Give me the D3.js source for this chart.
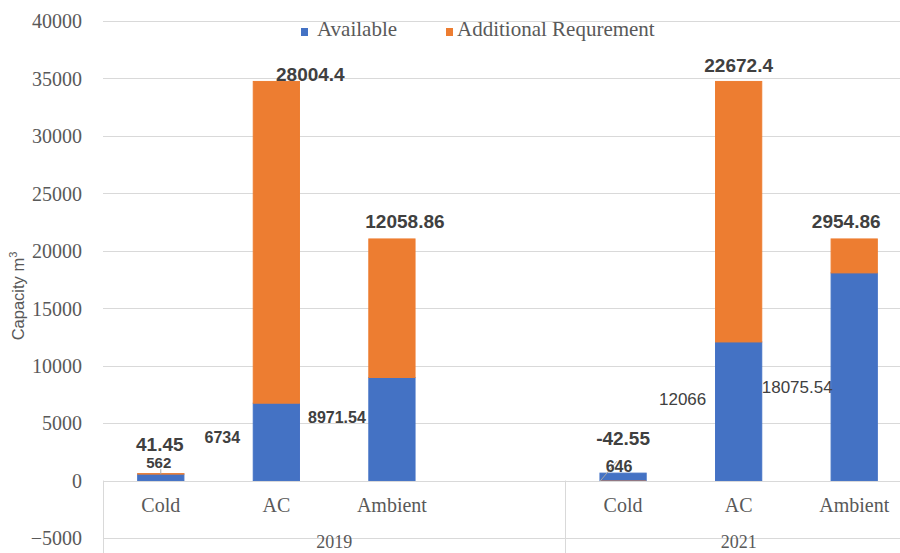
<!DOCTYPE html>
<html>
<head>
<meta charset="utf-8">
<script src="https://cdn.jsdelivr.net/npm/d3@7/dist/d3.min.js"></script>
<style>
  html, body { margin: 0; padding: 0; background: #ffffff; }
  svg { display: block; }
</style>
</head>
<body>
<svg id="chart" width="900" height="553"></svg>
<script>
// Storage capacity by type, two survey years (multi-level category axis)
const slotYear     = ["2019", "2019", "2019", "2019", "2021", "2021", "2021"];
const slotCategory = ["Cold", "AC", "Ambient", "", "Cold", "AC", "Ambient"];
const available    = [562, 6734, 8971.54, null, 646, 12066, 18075.54];
const additional   = [41.45, 28004.4, 12058.86, null, -42.55, 22672.4, 2954.86];
const seriesNames  = ["Available", "Additional Requrement"];
const yearGroups   = ["2019", "2021"];
const yTicks       = [-5000, 0, 5000, 10000, 15000, 20000, 25000, 30000, 35000, 40000];

// Hand-placed data label offsets (px) from each segment's top edge, per slot
const availLabelLayout = [
  { dx: -2,  dy: -6,  size: 15, weight: "bold", leader: [0, -5, 0, 0] },
  { dx: -54, dy: 40,  size: 16, weight: "bold" },
  { dx: -55, dy: 46,  size: 16, weight: "bold" },
  null,
  { dx: -4,  dy: -1,  size: 16, weight: "bold", leader: [-23, 8, -6, -12] },
  { dx: -56, dy: 63,  size: 17, weight: "normal" },
  { dx: -57, dy: 120, size: 17, weight: "normal" }
];
const addLabelLayout = [
  { dx: -1,  dy: -23, size: 19 },
  { dx: 34,  dy: 0,   size: 19 },
  { dx: 13,  dy: -11, size: 19 },
  null,
  { dx: 0,   dy: -36, size: 19 },
  { dx: 0,   dy: -9,  size: 19 },
  { dx: -8,  dy: -11, size: 19 }
];

const colors = { available: "#4472c4", additional: "#ed7d31" };
const W = 900, H = 553;
const plotLeft = 103, plotRight = 912, plotTop = 21, plotBottom = 538;

const svg = d3.select("#chart");

const slots = d3.range(slotCategory.length);
const x = d3.scaleBand().domain(slots).range([plotLeft, plotRight]).padding(0);
const barW = x.bandwidth() * 0.4;
const y = d3.scaleLinear().domain([-5000, 40000]).range([plotBottom, plotTop]);

// Gridlines
svg.append("g")
  .selectAll("line")
  .data(yTicks)
  .join("line")
  .attr("x1", plotLeft).attr("x2", W)
  .attr("y1", d => Math.round(y(d)) + 0.5)
  .attr("y2", d => Math.round(y(d)) + 0.5)
  .attr("stroke", "#d9d9d9")
  .attr("stroke-width", 1);

// Value axis labels
const yAxis = d3.axisLeft(y).tickValues(yTicks).tickSize(0).tickPadding(0).tickFormat(d3.format("d"));
const yAxisG = svg.append("g").attr("transform", `translate(${82},0)`).call(yAxis);
yAxisG.select(".domain").remove();
yAxisG.selectAll("text")
  .attr("font-family", "'Liberation Serif', serif")
  .attr("font-size", 20)
  .attr("fill", "#595959")
  .attr("dy", "0.34em");

// Axis title
svg.append("text")
  .attr("transform", `translate(24,296) rotate(-90)`)
  .attr("text-anchor", "middle")
  .attr("font-family", "'Liberation Sans', Arial, sans-serif")
  .attr("font-size", 16.5)
  .attr("fill", "#595959")
  .call(t => {
    t.append("tspan").text("Capacity m");
    t.append("tspan").attr("dy", -7).attr("font-size", 11).text("3");
  });

// Stacked bars
const rows = slots
  .filter(i => available[i] !== null)
  .map(i => ({ slot: i, available: available[i], additional: additional[i] }));

const stack = d3.stack()
  .keys(["available", "additional"])
  .offset(d3.stackOffsetDiverging);
const series = stack(rows);

const barsG = svg.append("g");
series.forEach(s => {
  barsG.append("g")
    .attr("fill", colors[s.key])
    .selectAll("rect")
    .data(s)
    .join("rect")
    .attr("x", d => x(d.data.slot) + (x.bandwidth() - barW) / 2)
    .attr("width", barW)
    .attr("y", d => y(Math.max(d[0], d[1])))
    .attr("height", d => Math.abs(y(d[0]) - y(d[1])))
    // thin same-colour outline on positive segments so very small ones stay visible
    .attr("stroke", d => d.data[s.key] > 0 ? colors[s.key] : "none")
    .attr("stroke-width", 1);
});

// Category axis line and group separators
svg.append("line")
  .attr("x1", plotLeft).attr("x2", W)
  .attr("y1", Math.round(y(0)) + 0.5).attr("y2", Math.round(y(0)) + 0.5)
  .attr("stroke", "#d9d9d9");

const groupEdges = [plotLeft, x(slotYear.indexOf("2021")), plotRight];
svg.append("g")
  .selectAll("line")
  .data(groupEdges)
  .join("line")
  .attr("x1", d => Math.round(d) + 0.5).attr("x2", d => Math.round(d) + 0.5)
  .attr("y1", y(0)).attr("y2", H)
  .attr("stroke", "#d9d9d9");

// Category labels
svg.append("g")
  .selectAll("text")
  .data(slots.filter(i => slotCategory[i] !== ""))
  .join("text")
  .attr("x", i => x(i) + x.bandwidth() / 2)
  .attr("y", 512)
  .attr("text-anchor", "middle")
  .attr("font-family", "'Liberation Serif', serif")
  .attr("font-size", 20)
  .attr("fill", "#595959")
  .text(i => slotCategory[i]);

// Year group labels
svg.append("g")
  .selectAll("text")
  .data(yearGroups)
  .join("text")
  .attr("x", yr => {
    const idx = slots.filter(i => slotYear[i] === yr);
    return (x(idx[0]) + x(idx[idx.length - 1]) + x.bandwidth()) / 2;
  })
  .attr("y", 548)
  .attr("text-anchor", "middle")
  .attr("font-family", "'Liberation Serif', serif")
  .attr("font-size", 18)
  .attr("fill", "#595959")
  .text(yr => yr);

// Data labels
const labelsG = svg.append("g")
  .attr("font-family", "'Liberation Sans', Arial, sans-serif")
  .attr("fill", "#404040")
  .attr("text-anchor", "middle");

const availSeries = series[0], addSeries = series[1];
availSeries.forEach(d => {
  const L = availLabelLayout[d.data.slot];
  const cx = x(d.data.slot) + x.bandwidth() / 2;
  const ay = y(d[1]);
  if (L.leader) {
    labelsG.append("line")
      .attr("x1", cx + L.leader[0]).attr("y1", ay + L.leader[1])
      .attr("x2", cx + L.leader[2]).attr("y2", ay + L.leader[3])
      .attr("stroke", "#a6a6a6").attr("stroke-width", 1);
  }
  labelsG.append("text")
    .attr("x", cx + L.dx)
    .attr("y", ay + L.dy)
    .attr("font-size", L.size)
    .attr("font-weight", L.weight)
    .text(String(d.data.available));
});
addSeries.forEach(d => {
  const L = addLabelLayout[d.data.slot];
  const cx = x(d.data.slot) + x.bandwidth() / 2;
  const ay = y(Math.max(d[0], d[1]));
  labelsG.append("text")
    .attr("x", cx + L.dx)
    .attr("y", ay + L.dy)
    .attr("font-size", L.size)
    .attr("font-weight", "bold")
    .text(String(d.data.additional));
});

// Legend
const legend = svg.append("g")
  .attr("font-family", "'Liberation Serif', serif")
  .attr("font-size", 21)
  .attr("fill", "#595959");
const legendX = [301, 446];
seriesNames.forEach((name, i) => {
  const key = i === 0 ? "available" : "additional";
  legend.append("rect")
    .attr("x", legendX[i]).attr("y", 28)
    .attr("width", 7).attr("height", 8)
    .attr("fill", colors[key]);
  legend.append("text")
    .attr("x", legendX[i] + (i === 0 ? 16 : 11))
    .attr("y", 36)
    .text(name);
});
</script>
</body>
</html>
